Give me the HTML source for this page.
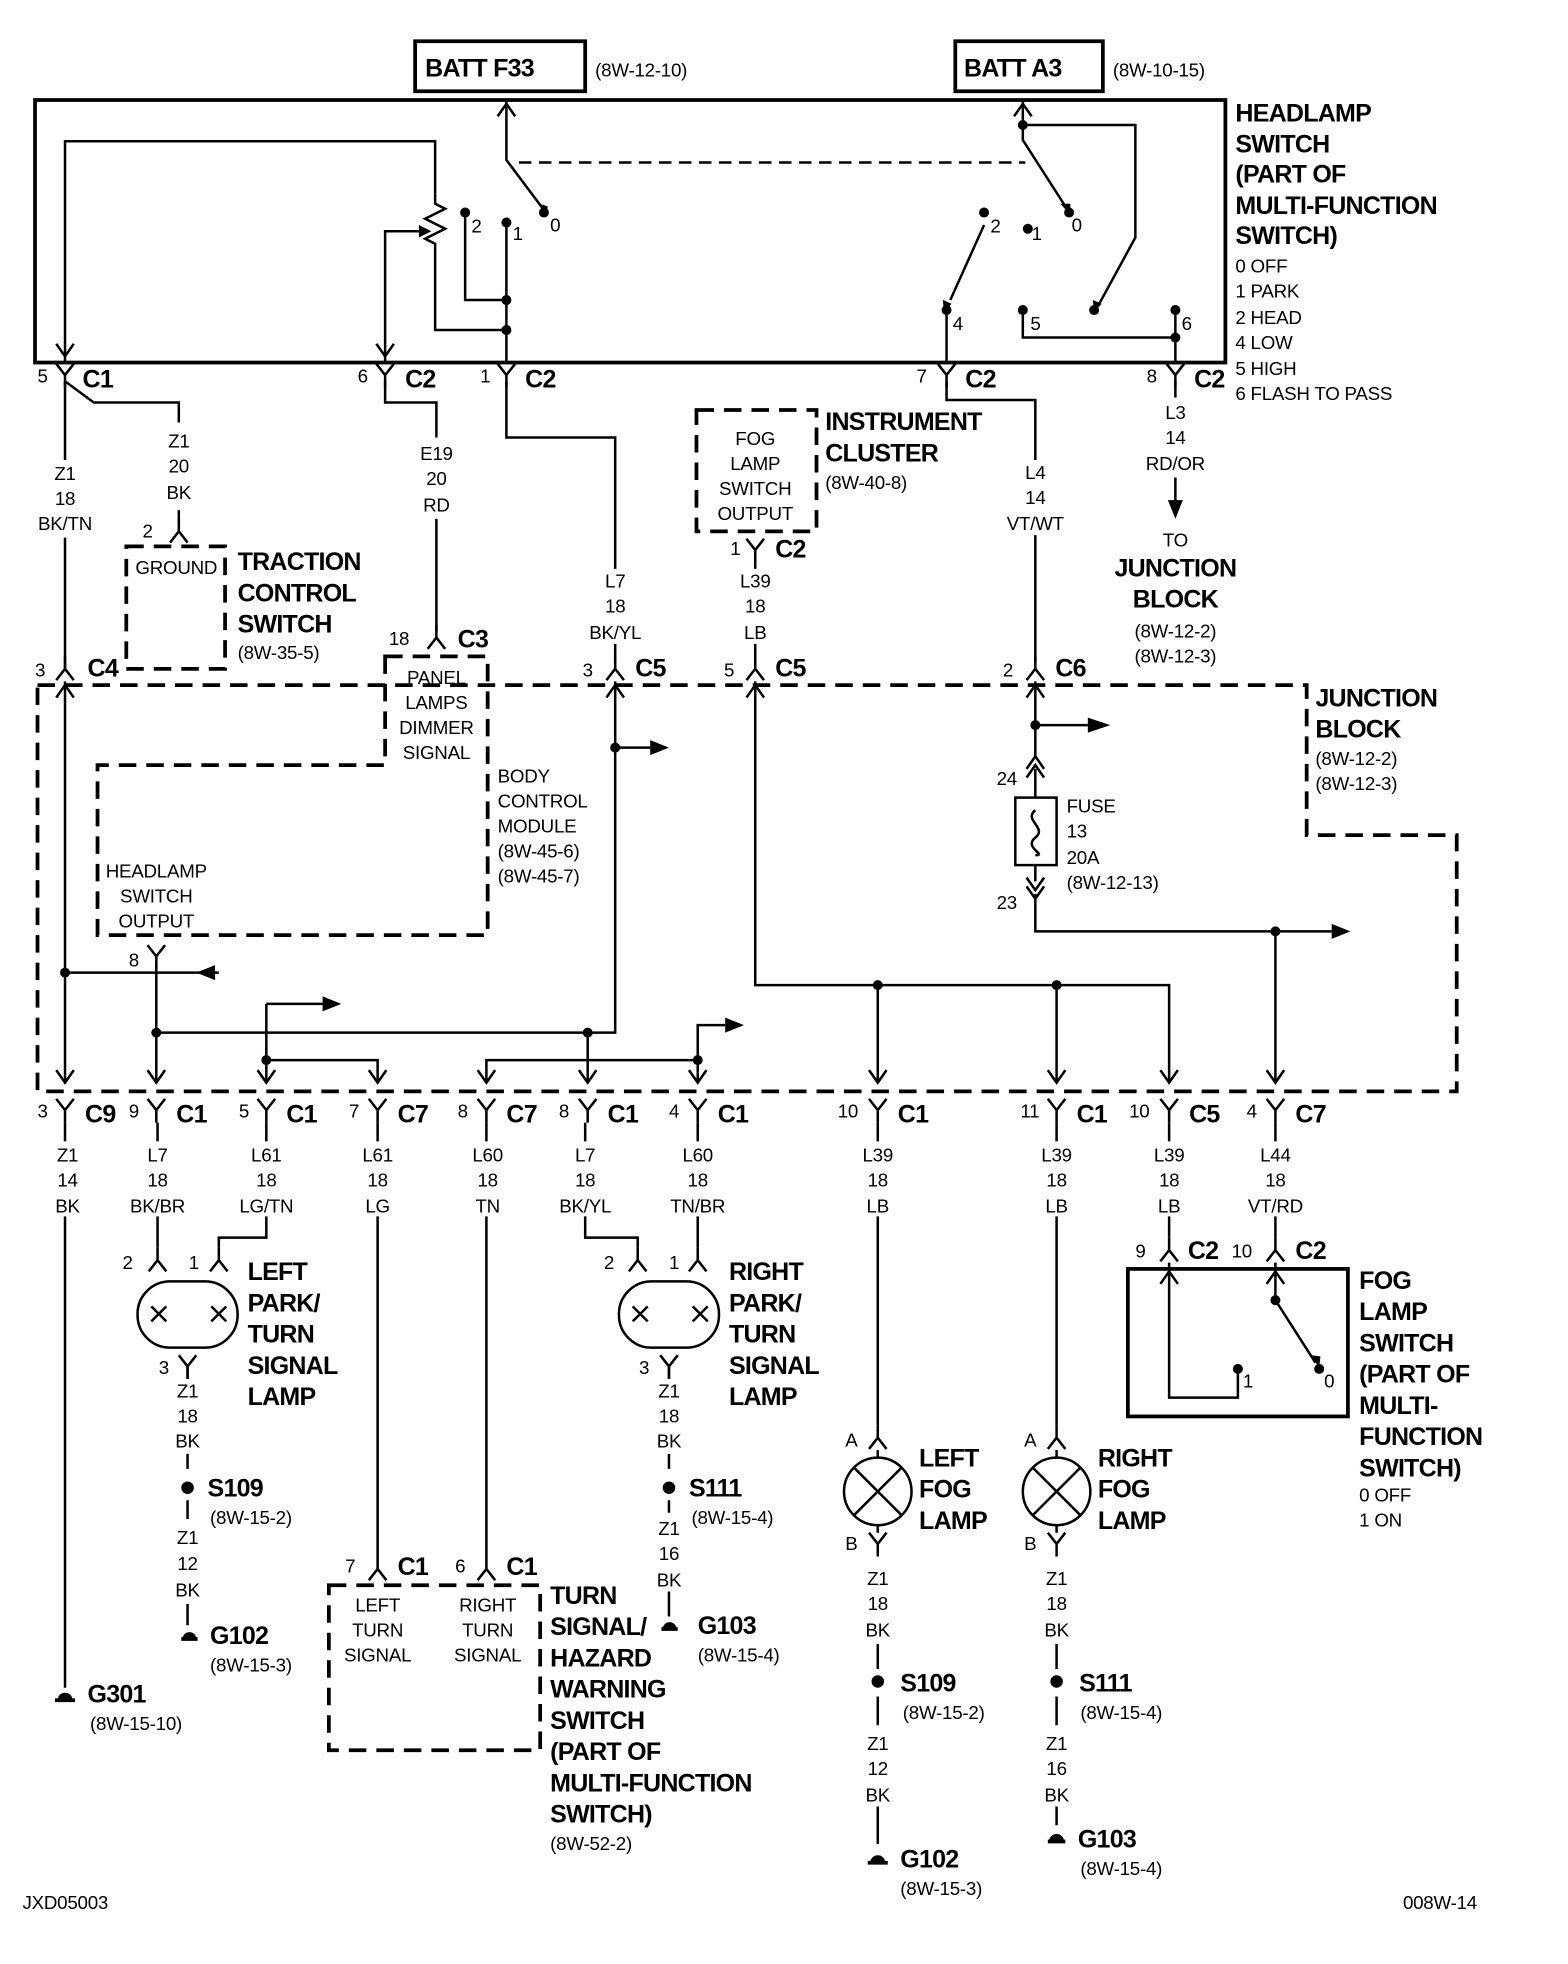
<!DOCTYPE html>
<html><head><meta charset="utf-8"><style>
html,body{margin:0;padding:0;background:#fff}
svg{display:block}
text{font-family:"Liberation Sans",Arial,sans-serif;fill:#000}
.b{font-weight:bold;font-size:20px;letter-spacing:-0.6px}
.s{font-size:15px;letter-spacing:-0.2px}
.m{font-size:16px;font-weight:bold}
.c{text-anchor:middle}
</style></head><body>
<svg width="1568" height="1964" viewBox="0 0 1254 1571" preserveAspectRatio="none" xmlns="http://www.w3.org/2000/svg">
<defs>
<path id="Y" d="M-7,-9 L0,0 L7,-9 M0,0 L0,10" fill="none" stroke="#000" stroke-width="2"/>
<path id="L" d="M-7,9 L0,0 L7,9 M0,0 L0,-10" fill="none" stroke="#000" stroke-width="2"/>
<path id="V" d="M-7,-10 L0,0 L7,-10" fill="none" stroke="#000" stroke-width="2"/>
<path id="A" d="M-7,10 L0,0 L7,10" fill="none" stroke="#000" stroke-width="2"/>
</defs>
<g fill="none" stroke="#000" stroke-width="2">
<rect x="332" y="33" width="136" height="40" stroke-width="3"/>
<rect x="764" y="33" width="118" height="40" stroke-width="3"/>
<rect x="28" y="80" width="952" height="210" stroke-width="3"/>
<path d="M405,80 V128 L435,168"/>
<path d="M415,130 H820" stroke-dasharray="10 6"/>
<path d="M372,170 V240 H405 M405,178 V290 M348,155 V113 H52 V290"/>
<path d="M348,155 l0,8 l8,4 l-16,8 l16,8 l-16,8 l8,4 V264 H405"/>
<path d="M308,290 V185 H335"/>
<path d="M818,80 V112 L852,165 M818,100 L908,100 V190 L878,245"/>
<path d="M787,180 L760,240 M757,248 V290 M818,248 V270 H940 M940,248 V290"/>
<path d="M52,305 V368 M52,430 V535 M52,305 L75,322 H143 V338 M143,408 V418"/>
<path d="M308,305 V322 H349 V350 M349,415 V505"/>
<path d="M405,305 V350 H492 V455 M492,515 V530"/>
<path d="M604,450 V455 M604,515 V530"/>
<path d="M757,305 V320 H828 V368 M828,428 V530"/>
<path d="M940,305 V318 M940,382 V410"/>
<g stroke-width="3" stroke-dasharray="14 8">
<rect x="101" y="437" width="79" height="98"/>
<rect x="557" y="328" width="96" height="97"/>
<path d="M30,548 H1045 V668 H1165 V873 H30 Z"/>
<path d="M308,525 H390 V748 H78 V612 H308 Z"/>
<rect x="263" y="1268" width="169" height="132"/>
</g>
<path d="M52,545 V865 M52,778 H175"/>
<path d="M125,770 V865 M125,826 H492 V545 M492,598 H520"/>
<path d="M213,803 H258 M213,803 V865 M213,848 H302 V865"/>
<path d="M389,865 V848 H558 V865 M558,848 V820 H580 M470,826 V865"/>
<path d="M604,545 V788 H935 V865 M702,788 V865 M845,788 V865"/>
<path d="M828,545 V605 M828,580 H870 M828,715 V745 H1065 M1020,745 V865"/>
<rect x="812" y="638" width="33" height="54"/>
<path d="M828,615 V638 M828,692 V705 M828,648 c-10,8 10,14 0,22 c-10,8 10,14 0,14"/>
<path d="M52,898 V913 M52,973 V1350"/>
<path d="M126,898 V913 M126,973 V998 M213,898 V913 M213,973 V990 H175 V998"/>
<rect x="110" y="1025" width="80" height="53" rx="26"/>
<path d="M121,1045 l12,12 m0,-12 l-12,12 M169,1045 l12,12 m0,-12 l-12,12"/>
<path d="M150,1093 V1103 M150,1163 V1175 M150,1200 V1215 M150,1283 V1300"/>
<path d="M302,898 V913 M302,973 V1245 M389,898 V913 M389,973 V1245"/>
<path d="M468,898 V913 M468,973 V990 H510 V998 M558,898 V913 M558,973 V998"/>
<rect x="495" y="1025" width="80" height="53" rx="26"/>
<path d="M506,1045 l12,12 m0,-12 l-12,12 M554,1045 l12,12 m0,-12 l-12,12"/>
<path d="M535,1093 V1103 M535,1163 V1175 M535,1200 V1210 M535,1273 V1293"/>
<path d="M702,898 V913 M702,973 V1140"/>
<circle cx="702" cy="1193" r="27"/>
<path d="M683,1174 l38,38 m0,-38 l-38,38 M702,1166 V1160 M702,1220 V1226"/>
<path d="M702,1315 V1335 M702,1357 V1380 M702,1445 V1475"/>
<path d="M845,898 V913 M845,973 V1140"/>
<circle cx="845" cy="1193" r="27"/>
<path d="M826,1174 l38,38 m0,-38 l-38,38 M845,1166 V1160 M845,1220 V1226"/>
<path d="M845,1315 V1335 M845,1357 V1380 M845,1445 V1460"/>
<path d="M935,898 V913 M935,973 V990 M1020,898 V913 M1020,973 V990"/>
<rect x="902" y="1015" width="176" height="118" stroke-width="3"/>
<path d="M935,1010 V1118 H990 V1098 M1020,1010 V1040 L1052,1090"/>
<path d="M44,1360 H60 M145,1311 H158 M529,1303 H542 M694,1490 H710 M838,1473 H852" stroke-width="3"/>
</g>
<g fill="#000">
<circle cx="372" cy="170" r="4"/><circle cx="405" cy="178" r="4"/><circle cx="435" cy="170" r="4"/>
<circle cx="405" cy="240" r="4"/><circle cx="405" cy="264" r="4"/>
<circle cx="818" cy="100" r="4"/><circle cx="787" cy="170" r="4"/><circle cx="822" cy="183" r="4"/><circle cx="855" cy="170" r="4"/>
<circle cx="757" cy="248" r="4"/><circle cx="818" cy="248" r="4"/><circle cx="875" cy="248" r="4"/><circle cx="940" cy="248" r="4"/><circle cx="940" cy="270" r="4"/>
<circle cx="52" cy="778" r="4"/><circle cx="125" cy="826" r="4"/><circle cx="470" cy="826" r="4"/><circle cx="492" cy="598" r="4"/>
<circle cx="213" cy="848" r="4"/><circle cx="558" cy="848" r="4"/>
<circle cx="702" cy="788" r="4"/><circle cx="845" cy="788" r="4"/><circle cx="828" cy="580" r="4"/><circle cx="1020" cy="745" r="4"/>
<circle cx="150" cy="1190" r="5"/><circle cx="535" cy="1190" r="5"/><circle cx="702" cy="1345" r="5"/><circle cx="845" cy="1345" r="5"/>
<circle cx="990" cy="1095" r="4"/><circle cx="1020" cy="1040" r="4"/><circle cx="1055" cy="1095" r="4"/>
<path d="M46,1360 a6,6 0 0 1 12,0Z M146,1311 a5,5 0 0 1 11,0Z M530,1303 a5,5 0 0 1 11,0Z M696,1490 a6,6 0 0 1 12,0Z M839,1473 a6,6 0 0 1 12,0Z"/>
<path d="M520,592 l15,6 l-15,6Z M870,574 l18,6 l-18,6Z M1065,739 l15,6 l-15,6Z M258,797 l15,6 l-15,6Z M580,814 l15,6 l-15,6Z M172,772 l-15,6 l15,6Z"/>
<path d="M934,400 l6,15 l6,-15Z M335,180 l10,5 l-10,5Z"/>
<path d="M431,163 l6,10 l1,-8Z M848,163 l8,9 l0,-9Z M874,240 l1,10 l6,-7Z M754,240 l1,10 l6,-7Z M1048,1084 l7,10 l1,-9Z"/>
</g>
<use href="#A" x="405" y="83"/><use href="#A" x="818" y="83"/><use href="#V" x="52" y="285"/><use href="#V" x="308" y="285"/>
<use href="#Y" x="52" y="300"/><use href="#Y" x="308" y="300"/><use href="#Y" x="405" y="300"/><use href="#Y" x="757" y="300"/><use href="#Y" x="940" y="300"/>
<use href="#L" x="143" y="425"/><use href="#Y" x="604" y="440"/><use href="#L" x="349" y="510"/>
<use href="#L" x="52" y="535"/><use href="#L" x="492" y="535"/><use href="#L" x="604" y="535"/><use href="#L" x="828" y="535"/>
<use href="#A" x="52" y="548"/><use href="#A" x="492" y="548"/><use href="#A" x="604" y="548"/><use href="#A" x="828" y="548"/>
<use href="#A" x="828" y="605"/><use href="#A" x="828" y="612"/><use href="#V" x="828" y="712"/><use href="#V" x="828" y="719"/>
<use href="#Y" x="125" y="765"/>
<g><use href="#V" x="52" y="866"/><use href="#V" x="125" y="866"/><use href="#V" x="213" y="866"/><use href="#V" x="302" y="866"/><use href="#V" x="389" y="866"/><use href="#V" x="470" y="866"/><use href="#V" x="558" y="866"/><use href="#V" x="702" y="866"/><use href="#V" x="845" y="866"/><use href="#V" x="935" y="866"/><use href="#V" x="1020" y="866"/></g>
<g><use href="#Y" x="52" y="888"/><use href="#Y" x="125" y="888"/><use href="#Y" x="213" y="888"/><use href="#Y" x="302" y="888"/><use href="#Y" x="389" y="888"/><use href="#Y" x="470" y="888"/><use href="#Y" x="558" y="888"/><use href="#Y" x="702" y="888"/><use href="#Y" x="845" y="888"/><use href="#Y" x="935" y="888"/><use href="#Y" x="1020" y="888"/></g>
<use href="#L" x="126" y="1008"/><use href="#L" x="175" y="1008"/><use href="#L" x="510" y="1008"/><use href="#L" x="558" y="1008"/>
<use href="#Y" x="150" y="1093"/><use href="#Y" x="535" y="1093"/>
<use href="#L" x="302" y="1255"/><use href="#L" x="389" y="1255"/>
<use href="#L" x="702" y="1150"/><use href="#Y" x="702" y="1235"/><use href="#L" x="845" y="1150"/><use href="#Y" x="845" y="1235"/>
<use href="#L" x="935" y="1000"/><use href="#L" x="1020" y="1000"/><use href="#A" x="935" y="1017"/><use href="#A" x="1020" y="1017"/>

<text class="b" x="340" y="61">BATT F33</text><text class="s" x="476" y="61">(8W-12-10)</text>
<text class="b" x="771" y="61">BATT A3</text><text class="s" x="890" y="61">(8W-10-15)</text>
<g class="b"><text x="988" y="97">HEADLAMP</text><text x="988" y="122">SWITCH</text><text x="988" y="146">(PART OF</text><text x="988" y="171">MULTI-FUNCTION</text><text x="988" y="195">SWITCH)</text></g>
<g class="s"><text x="988" y="218">0 OFF</text><text x="988" y="238">1 PARK</text><text x="988" y="259">2 HEAD</text><text x="988" y="279">4 LOW</text><text x="988" y="300">5 HIGH</text><text x="988" y="320">6 FLASH TO PASS</text></g>
<g class="s"><text x="377" y="186">2</text><text x="410" y="192">1</text><text x="440" y="185">0</text><text x="792" y="186">2</text><text x="825" y="192">1</text><text x="857" y="185">0</text><text x="762" y="264">4</text><text x="824" y="264">5</text><text x="945" y="264">6</text></g>
<g class="s"><text x="30" y="306">5</text><text x="286" y="306">6</text><text x="384" y="306">1</text><text x="733" y="306">7</text><text x="917" y="306">8</text></g>
<g class="b"><text x="66" y="310">C1</text><text x="324" y="310">C2</text><text x="420" y="310">C2</text><text x="772" y="310">C2</text><text x="955" y="310">C2</text></g>
<g class="s c"><text x="52" y="384">Z1</text><text x="52" y="404">18</text><text x="52" y="424">BK/TN</text>
<text x="143" y="358">Z1</text><text x="143" y="378">20</text><text x="143" y="399">BK</text>
<text x="349" y="368">E19</text><text x="349" y="388">20</text><text x="349" y="409">RD</text>
<text x="492" y="470">L7</text><text x="492" y="490">18</text><text x="492" y="511">BK/YL</text>
<text x="604" y="470">L39</text><text x="604" y="490">18</text><text x="604" y="511">LB</text>
<text x="828" y="383">L4</text><text x="828" y="403">14</text><text x="828" y="424">VT/WT</text>
<text x="940" y="335">L3</text><text x="940" y="355">14</text><text x="940" y="376">RD/OR</text>
<text x="940" y="437">TO</text>
<text x="141" y="459">GROUND</text>
<text x="604" y="356">FOG</text><text x="604" y="376">LAMP</text><text x="604" y="396">SWITCH</text><text x="604" y="416">OUTPUT</text>
<text x="349" y="547">PANEL</text><text x="349" y="567">LAMPS</text><text x="349" y="587">DIMMER</text><text x="349" y="607">SIGNAL</text>
<text x="125" y="702">HEADLAMP</text><text x="125" y="722">SWITCH</text><text x="125" y="742">OUTPUT</text>
</g>
<g class="b c"><text x="940" y="461">JUNCTION</text><text x="940" y="486">BLOCK</text></g>
<g class="s c"><text x="940" y="510">(8W-12-2)</text><text x="940" y="530">(8W-12-3)</text></g>
<g class="s"><text x="114" y="430">2</text><text x="584" y="444">1</text><text x="311" y="516">18</text>
<text x="28" y="541">3</text><text x="466" y="541">3</text><text x="579" y="541">5</text><text x="802" y="541">2</text>
<text x="103" y="773">8</text><text x="797" y="628">24</text><text x="797" y="727">23</text></g>
<g class="b"><text x="620" y="446">C2</text><text x="366" y="518">C3</text><text x="70" y="541">C4</text><text x="508" y="541">C5</text><text x="620" y="541">C5</text><text x="844" y="541">C6</text></g>
<g class="b"><text x="190" y="456">TRACTION</text><text x="190" y="481">CONTROL</text><text x="190" y="506">SWITCH</text>
<text x="660" y="344">INSTRUMENT</text><text x="660" y="369">CLUSTER</text>
<text x="1052" y="565">JUNCTION</text><text x="1052" y="590">BLOCK</text></g>
<g class="s"><text x="190" y="527">(8W-35-5)</text><text x="660" y="391">(8W-40-8)</text>
<text x="1052" y="612">(8W-12-2)</text><text x="1052" y="632">(8W-12-3)</text>
<text x="398" y="626">BODY</text><text x="398" y="646">CONTROL</text><text x="398" y="666">MODULE</text><text x="398" y="686">(8W-45-6)</text><text x="398" y="706">(8W-45-7)</text>
<text x="853" y="650">FUSE</text><text x="853" y="670">13</text><text x="853" y="691">20A</text><text x="853" y="711">(8W-12-13)</text></g>
<g class="s"><text x="30" y="894">3</text><text x="103" y="894">9</text><text x="191" y="894">5</text><text x="279" y="894">7</text><text x="366" y="894">8</text><text x="447" y="894">8</text><text x="535" y="894">4</text><text x="670" y="894">10</text><text x="816" y="894">11</text><text x="903" y="894">10</text><text x="997" y="894">4</text></g>
<g class="b"><text x="68" y="898">C9</text><text x="141" y="898">C1</text><text x="229" y="898">C1</text><text x="318" y="898">C7</text><text x="405" y="898">C7</text><text x="486" y="898">C1</text><text x="574" y="898">C1</text><text x="718" y="898">C1</text><text x="861" y="898">C1</text><text x="951" y="898">C5</text><text x="1036" y="898">C7</text></g>
<g class="s c">
<text x="54" y="929">Z1</text><text x="54" y="949">14</text><text x="54" y="970">BK</text>
<text x="126" y="929">L7</text><text x="126" y="949">18</text><text x="126" y="970">BK/BR</text>
<text x="213" y="929">L61</text><text x="213" y="949">18</text><text x="213" y="970">LG/TN</text>
<text x="302" y="929">L61</text><text x="302" y="949">18</text><text x="302" y="970">LG</text>
<text x="390" y="929">L60</text><text x="390" y="949">18</text><text x="390" y="970">TN</text>
<text x="468" y="929">L7</text><text x="468" y="949">18</text><text x="468" y="970">BK/YL</text>
<text x="558" y="929">L60</text><text x="558" y="949">18</text><text x="558" y="970">TN/BR</text>
<text x="702" y="929">L39</text><text x="702" y="949">18</text><text x="702" y="970">LB</text>
<text x="845" y="929">L39</text><text x="845" y="949">18</text><text x="845" y="970">LB</text>
<text x="935" y="929">L39</text><text x="935" y="949">18</text><text x="935" y="970">LB</text>
<text x="1020" y="929">L44</text><text x="1020" y="949">18</text><text x="1020" y="970">VT/RD</text>
<text x="150" y="1118">Z1</text><text x="150" y="1138">18</text><text x="150" y="1158">BK</text>
<text x="150" y="1235">Z1</text><text x="150" y="1256">12</text><text x="150" y="1277">BK</text>
<text x="535" y="1118">Z1</text><text x="535" y="1138">18</text><text x="535" y="1158">BK</text>
<text x="535" y="1228">Z1</text><text x="535" y="1248">16</text><text x="535" y="1269">BK</text>
<text x="702" y="1268">Z1</text><text x="702" y="1288">18</text><text x="702" y="1309">BK</text>
<text x="702" y="1400">Z1</text><text x="702" y="1420">12</text><text x="702" y="1441">BK</text>
<text x="845" y="1268">Z1</text><text x="845" y="1288">18</text><text x="845" y="1309">BK</text>
<text x="845" y="1400">Z1</text><text x="845" y="1420">16</text><text x="845" y="1441">BK</text>
<text x="302" y="1289">LEFT</text><text x="302" y="1309">TURN</text><text x="302" y="1329">SIGNAL</text>
<text x="390" y="1289">RIGHT</text><text x="390" y="1309">TURN</text><text x="390" y="1329">SIGNAL</text>
</g>
<g class="s"><text x="98" y="1015">2</text><text x="151" y="1015">1</text><text x="483" y="1015">2</text><text x="535" y="1015">1</text>
<text x="127" y="1099">3</text><text x="511" y="1099">3</text><text x="276" y="1258">7</text><text x="364" y="1258">6</text>
<text x="676" y="1157">A</text><text x="676" y="1240">B</text><text x="819" y="1157">A</text><text x="819" y="1240">B</text>
<text x="908" y="1006">9</text><text x="985" y="1006">10</text><text x="994" y="1110">1</text><text x="1059" y="1110">0</text></g>
<g class="b"><text x="318" y="1260">C1</text><text x="405" y="1260">C1</text><text x="950" y="1007">C2</text><text x="1036" y="1007">C2</text></g>
<g class="b"><text x="198" y="1024">LEFT</text><text x="198" y="1049">PARK/</text><text x="198" y="1074">TURN</text><text x="198" y="1099">SIGNAL</text><text x="198" y="1124">LAMP</text>
<text x="583" y="1024">RIGHT</text><text x="583" y="1049">PARK/</text><text x="583" y="1074">TURN</text><text x="583" y="1099">SIGNAL</text><text x="583" y="1124">LAMP</text>
<text x="735" y="1173">LEFT</text><text x="735" y="1198">FOG</text><text x="735" y="1223">LAMP</text>
<text x="878" y="1173">RIGHT</text><text x="878" y="1198">FOG</text><text x="878" y="1223">LAMP</text>
<text x="1087" y="1031">FOG</text><text x="1087" y="1056">LAMP</text><text x="1087" y="1081">SWITCH</text><text x="1087" y="1106">(PART OF</text><text x="1087" y="1131">MULTI-</text><text x="1087" y="1156">FUNCTION</text><text x="1087" y="1181">SWITCH)</text>
<text x="440" y="1283">TURN</text><text x="440" y="1308">SIGNAL/</text><text x="440" y="1333">HAZARD</text><text x="440" y="1358">WARNING</text><text x="440" y="1383">SWITCH</text><text x="440" y="1408">(PART OF</text><text x="440" y="1433">MULTI-FUNCTION</text><text x="440" y="1458">SWITCH)</text>
<text x="166" y="1197">S109</text><text x="168" y="1315">G102</text><text x="551" y="1197">S111</text><text x="558" y="1307">G103</text><text x="70" y="1362">G301</text>
<text x="720" y="1353">S109</text><text x="720" y="1494">G102</text><text x="863" y="1353">S111</text><text x="862" y="1478">G103</text></g>
<g class="s"><text x="1087" y="1201">0 OFF</text><text x="1087" y="1221">1 ON</text>
<text x="168" y="1219">(8W-15-2)</text><text x="168" y="1337">(8W-15-3)</text><text x="553" y="1219">(8W-15-4)</text><text x="558" y="1329">(8W-15-4)</text><text x="72" y="1384">(8W-15-10)</text>
<text x="722" y="1375">(8W-15-2)</text><text x="720" y="1516">(8W-15-3)</text><text x="864" y="1375">(8W-15-4)</text><text x="864" y="1500">(8W-15-4)</text>
<text x="440" y="1480">(8W-52-2)</text>
<text x="18" y="1527">JXD05003</text><text x="1122" y="1527">008W-14</text></g>
</svg>
</body></html>
